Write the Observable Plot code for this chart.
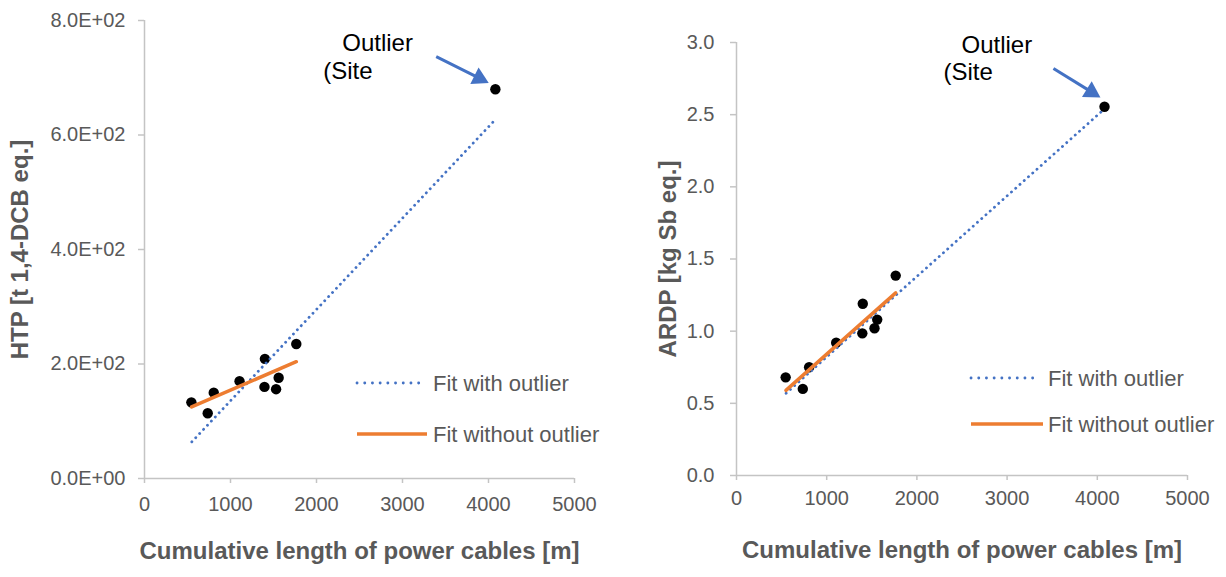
<!DOCTYPE html>
<html>
<head>
<meta charset="utf-8">
<script src="https://cdn.jsdelivr.net/npm/d3@7"></script>
<script src="https://cdn.jsdelivr.net/npm/@observablehq/plot@0.6"></script>
<style>
  html, body { margin: 0; padding: 0; background: #fff; }
  #wrap { position: relative; width: 1226px; height: 577px; overflow: hidden; font-family: "Liberation Sans", Arial, sans-serif; }
  #wrap > .panel { position: absolute; top: 0; }
  #overlay { position: absolute; left: 0; top: 0; pointer-events: none; }
</style>
</head>
<body>
<div id="wrap"></div>
<script>
// ---- data ----
const cableLength = [545, 735, 805, 1105, 1400, 1395, 1530, 1560, 1765]; // m
const htpValues   = [133, 114, 150, 170, 209, 160, 156, 176, 235];       // t 1,4-DCB eq.
const ardpValues  = [0.68, 0.60, 0.75, 0.92, 1.19, 0.985, 1.02, 1.08, 1.385]; // kg Sb eq.
const outlierLength = 4080;
const outlierHTP = 680;
const outlierARDP = 2.555;

// fitted lines (end points)
const fitWithX = [550, 4080];
const fitWithHTP = [64, 627];
const fitWithARDP = [0.57, 2.54];
const fitWithoutX = [548, 1765];
const fitWithoutHTP = [125, 204];
const fitWithoutARDP = [0.59, 1.265];

const xTicks = [0, 1000, 2000, 3000, 4000, 5000];
const htpTicks = [0, 200, 400, 600, 800];
const htpTickLabels = ["0.0E+00", "2.0E+02", "4.0E+02", "6.0E+02", "8.0E+02"];
const ardpTicks = [0, 0.5, 1, 1.5, 2, 2.5, 3];
const ardpTickLabels = ["0.0", "0.5", "1.0", "1.5", "2.0", "2.5", "3.0"];

const legendLabels = ["Fit with outlier", "Fit without outlier"];
const xTitle = "Cumulative length of power cables [m]";

// ---- styling ----
const FONT = '"Liberation Sans", Arial, sans-serif';
const BLUE = "#4472C4", ORANGE = "#ED7D31", AXIS = "#c4c4c4", TXT = "#595959";

function panel(cfg) {
  const W = 613, H = 577;
  const m = cfg.margin;
  const xS = Plot.scale({x: {domain: [0, 5000], range: [m.left, W - m.right]}});
  const yS = Plot.scale({y: {domain: cfg.yDomain, range: [H - m.bottom, m.top]}});
  // arrow geometry (annotation)
  const a = cfg.arrow;
  const p1 = [xS.apply(a.x1), yS.apply(a.y1)], p2 = [xS.apply(a.x2), yS.apply(a.y2)];
  const dx = p2[0] - p1[0], dy = p2[1] - p1[1], L = Math.hypot(dx, dy);
  const ux = dx / L, uy = dy / L;
  const headH = 16;
  const cen = [p2[0] - ux * headH * 2 / 3, p2[1] - uy * headH * 2 / 3];
  const shaftEnd = [p2[0] - ux * (headH - 2), p2[1] - uy * (headH - 2)];
  const rot = Math.atan2(dx, -dy) * 180 / Math.PI;
  const triSize = Math.pow(headH / 3, 2) * 3 * Math.sqrt(3);
  const triR = Math.sqrt(triSize / Math.PI);

  const pts = cableLength.map((d, i) => ({x: d, y: cfg.values[i]}));
  pts.push({x: outlierLength, y: cfg.outlier});
  const withLine = fitWithX.map((d, i) => ({x: d, y: cfg.fitWith[i]}));
  const withoutLine = fitWithoutX.map((d, i) => ({x: d, y: cfg.fitWithout[i]}));

  return Plot.plot({
    width: W, height: H,
    marginLeft: m.left, marginRight: m.right, marginTop: m.top, marginBottom: m.bottom,
    x: {domain: [0, 5000]},
    y: {domain: cfg.yDomain},
    style: {fontFamily: FONT, background: "#fff", overflow: "visible"},
    marks: [
      Plot.ruleX([0], {stroke: AXIS, strokeWidth: 1.5}),
      Plot.ruleY([cfg.yDomain[0]], {stroke: AXIS, strokeWidth: 1.5}),
      Plot.axisY({ticks: cfg.yTicks, tickSize: 6, tickFormat: () => "", label: null, stroke: AXIS, strokeWidth: 1.5}),
      Plot.axisY({ticks: cfg.yTicks, tickSize: 0, tickPadding: cfg.yPad, fontSize: 20, fill: TXT, label: null,
        tickFormat: d => cfg.yLabels[cfg.yTicks.indexOf(d)]}),
      Plot.axisX({ticks: xTicks, tickSize: 5, tickFormat: () => "", label: null, stroke: AXIS, strokeWidth: 1.5}),
      Plot.axisX({ticks: xTicks, tickSize: 0, tickPadding: cfg.xPad, fontSize: 20, fill: TXT, label: null, tickFormat: d => String(d)}),
      Plot.text([cfg.yTitle], {frameAnchor: "left", textAnchor: "middle", dx: cfg.yTitleDx, rotate: -90, fontSize: 24, fontWeight: "bold", fill: TXT}),
      Plot.text([xTitle], {frameAnchor: "bottom", textAnchor: "middle", dy: cfg.xTitleDy, fontSize: 24, fontWeight: "bold", fill: TXT}),
      Plot.dot(pts, {x: "x", y: "y", r: 5.2, fill: "#000", stroke: "none"}),
      Plot.line(withLine, {x: "x", y: "y", stroke: BLUE, strokeWidth: 2.8, strokeDasharray: "0.1,5.6", strokeLinecap: "round"}),
      Plot.line(withoutLine, {x: "x", y: "y", stroke: ORANGE, strokeWidth: 3.5}),
      // annotation
      Plot.text(["Outlier"], {x: cfg.noteX1, y: cfg.noteY1, textAnchor: "start", fontSize: 24, fill: "#000"}),
      Plot.text(["(Site"], {x: cfg.noteX2, y: cfg.noteY2, textAnchor: "start", fontSize: 24, fill: "#000"}),
      Plot.link([{}], {x1: a.x1, y1: a.y1, x2: xS.invert(shaftEnd[0]), y2: yS.invert(shaftEnd[1]), stroke: BLUE, strokeWidth: 3}),
      Plot.dot([{}], {x: xS.invert(cen[0]), y: yS.invert(cen[1]), symbol: "triangle", r: triR, rotate: rot, fill: BLUE, stroke: "none"})
    ]
  });
}

const left = panel({
  margin: {left: 144, right: 39, top: 20, bottom: 99},
  yDomain: [0, 800], yTicks: htpTicks, yLabels: htpTickLabels, yPad: 19, xPad: 18,
  yTitle: "HTP [t 1,4-DCB eq.]", yTitleDx: -124, xTitleDy: 80,
  values: htpValues, outlier: outlierHTP, fitWith: fitWithHTP, fitWithout: fitWithoutHTP,
  noteX1: 2299, noteY1: 761, noteX2: 2078, noteY2: 711,
  arrow: {x1: 3392, y1: 737, x2: 4003, y2: 691}
});
const right = panel({
  margin: {left: 123, right: 39, top: 42, bottom: 102},
  yDomain: [0, 3], yTicks: ardpTicks, yLabels: ardpTickLabels, yPad: 22, xPad: 15,
  yTitle: "ARDP [kg Sb eq.]", yTitleDx: -68, xTitleDy: 82,
  values: ardpValues, outlier: outlierARDP, fitWith: fitWithARDP, fitWithout: fitWithoutARDP,
  noteX1: 2494, noteY1: 2.979, noteX2: 2295, noteY2: 2.792,
  arrow: {x1: 3514, y1: 2.82, x2: 4035, y2: 2.619}
});

const wrap = document.getElementById("wrap");
left.classList.add("panel"); left.style.left = "0px";
right.classList.add("panel"); right.style.left = "613px";
wrap.appendChild(left);
wrap.appendChild(right);

// ---- legends (overlay) ----
const ov = d3.select(wrap).append("svg").attr("id", "overlay").attr("width", 1226).attr("height", 577)
  .style("font-family", FONT);
function legend(x0, yDot, yLine, dotEnd, lineEnd, tx) {
  ov.append("line").attr("x1", x0).attr("x2", dotEnd).attr("y1", yDot).attr("y2", yDot)
    .attr("stroke", BLUE).attr("stroke-width", 2.8).attr("stroke-dasharray", "0.1,7.6").attr("stroke-linecap", "round");
  ov.append("line").attr("x1", x0).attr("x2", lineEnd).attr("y1", yLine).attr("y2", yLine)
    .attr("stroke", ORANGE).attr("stroke-width", 3.5);
  ov.append("text").attr("x", tx).attr("y", yDot).attr("dy", "0.36em").attr("font-size", 22).attr("fill", TXT).text(legendLabels[0]);
  ov.append("text").attr("x", tx).attr("y", yLine).attr("dy", "0.36em").attr("font-size", 22).attr("fill", TXT).text(legendLabels[1]);
}
legend(357, 383, 434, 420, 427, 433);
legend(971, 378, 424, 1036, 1043, 1048);
</script>
</body>
</html>
